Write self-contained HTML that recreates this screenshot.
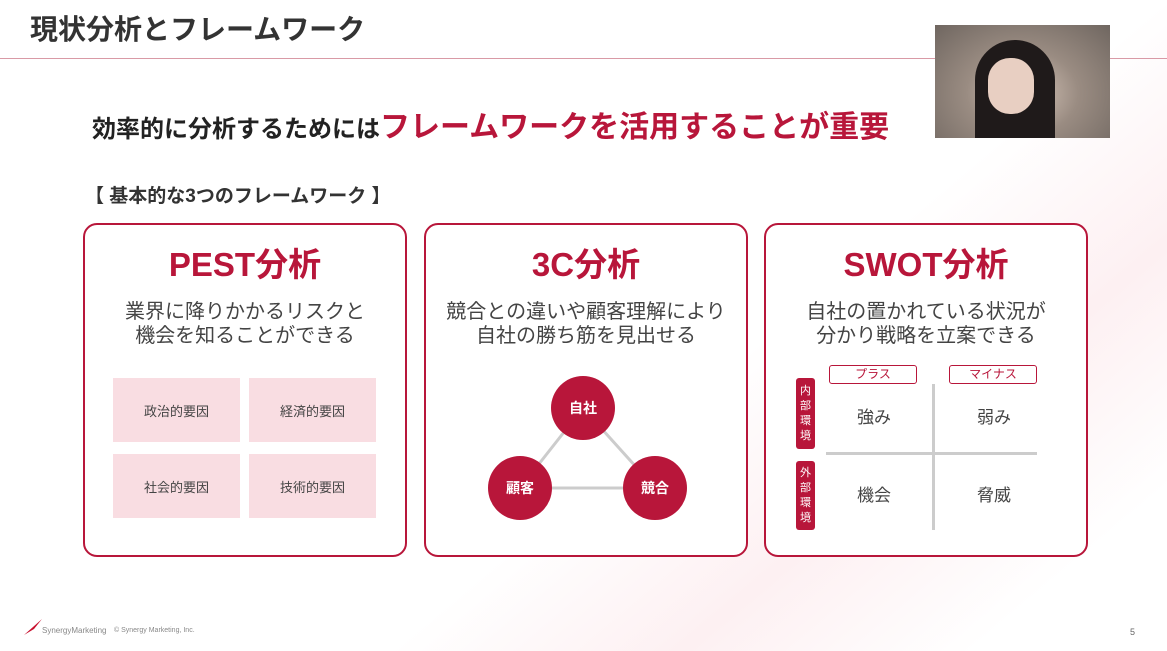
<!DOCTYPE html>
<html><head><meta charset="utf-8"><style>
body{margin:0;width:1167px;height:651px;position:relative;overflow:hidden;background:#fff;font-family:"Liberation Sans","Noto Sans CJK JP",sans-serif;}
.a{position:absolute;}
.card{position:absolute;top:223px;width:320px;height:330px;border:2px solid #b8163a;border-radius:14px;background:#fff;}
.ct{position:absolute;left:0;right:0;top:13px;text-align:center;font-size:33px;font-weight:bold;color:#b8163a;}
.cd{position:absolute;left:0;right:0;top:75px;text-align:center;font-size:20px;line-height:24px;color:#444;}
.pb{position:absolute;width:127px;height:64px;background:#f9dde2;color:#444;font-size:13px;display:flex;align-items:center;justify-content:center;}
.ci{position:absolute;width:64px;height:64px;border-radius:50%;background:#b8163a;color:#fff;font-size:14px;font-weight:bold;display:flex;align-items:center;justify-content:center;}
.tag{position:absolute;width:86px;height:17px;border:1.5px solid #b8163a;border-radius:3px;color:#b8163a;font-size:12px;text-align:center;line-height:17px;background:#fff;}
.side{position:absolute;width:19px;background:#b8163a;border-radius:3px;color:#fff;font-size:11px;line-height:15px;text-align:center;display:flex;align-items:center;justify-content:center;}
.sw{position:absolute;font-size:17px;color:#444;}
</style></head><body>
<div class="a" style="left:0;top:0;width:1167px;height:651px;background:linear-gradient(140deg,#fff 0%,#fff 60%,#fdf0f2 75%,#fff 90%);"></div>
<div class="a" style="left:30px;top:8px;font-size:28px;font-weight:bold;color:#333;">現状分析とフレームワーク</div>
<div class="a" style="left:0;top:58px;width:1167px;height:1px;background:#d99aa6;"></div>
<div class="a" style="left:935px;top:25px;width:175px;height:113px;background:radial-gradient(ellipse at 50% 60%,#d9c8bc 0%,#9a8c82 45%,#6f6660 100%);"></div>
<div class="a" style="left:975px;top:40px;width:80px;height:98px;border-radius:40px 40px 0 0;background:#1f1a1a;"></div>
<div class="a" style="left:988px;top:58px;width:46px;height:56px;border-radius:22px;background:#e8cfc2;"></div>
<div class="a" style="left:92px;top:102px;font-size:24px;font-weight:bold;color:#222;white-space:nowrap;">効率的に分析するためには<span style="color:#b8163a;font-size:30px;">フレームワークを活用することが重要</span></div>
<div class="a" style="left:85px;top:181px;font-size:19px;font-weight:bold;color:#333;">【 基本的な3つのフレームワーク 】</div>

<div class="card" style="left:83px;"><div class="ct">PEST分析</div><div class="cd">業界に降りかかるリスクと<br>機会を知ることができる</div></div>
<div class="pb" style="left:113px;top:378px;">政治的要因</div>
<div class="pb" style="left:249px;top:378px;">経済的要因</div>
<div class="pb" style="left:113px;top:454px;">社会的要因</div>
<div class="pb" style="left:249px;top:454px;">技術的要因</div>

<div class="card" style="left:424px;"><div class="ct">3C分析</div><div class="cd">競合との違いや顧客理解により<br>自社の勝ち筋を見出せる</div></div>
<svg class="a" style="left:424px;top:223px" width="324" height="334"><g stroke="#ccc" stroke-width="3"><line x1="159" y1="185" x2="96" y2="265"/><line x1="159" y1="185" x2="231" y2="265"/><line x1="96" y1="265" x2="231" y2="265"/></g></svg>
<div class="ci" style="left:551px;top:376px;">自社</div>
<div class="ci" style="left:488px;top:456px;">顧客</div>
<div class="ci" style="left:623px;top:456px;">競合</div>

<div class="card" style="left:764px;"><div class="ct">SWOT分析</div><div class="cd">自社の置かれている状況が<br>分かり戦略を立案できる</div></div>
<div class="tag" style="left:829px;top:365px;">プラス</div>
<div class="tag" style="left:949px;top:365px;">マイナス</div>
<div class="side" style="left:796px;top:378px;height:71px;">内<br>部<br>環<br>境</div>
<div class="side" style="left:796px;top:461px;height:69px;">外<br>部<br>環<br>境</div>
<div class="a" style="left:932px;top:384px;width:3px;height:146px;background:#ccc;"></div>
<div class="a" style="left:826px;top:452px;width:211px;height:3px;background:#ccc;"></div>
<div class="sw" style="left:857px;top:403px;">強み</div>
<div class="sw" style="left:977px;top:403px;">弱み</div>
<div class="sw" style="left:857px;top:481px;">機会</div>
<div class="sw" style="left:977px;top:481px;">脅威</div>

<svg class="a" style="left:22px;top:617px" width="22" height="20"><path d="M2 18 L20 2 L12 12 Z" fill="#c8102e"/></svg>
<div class="a" style="left:42px;top:626px;font-size:8px;color:#888;">SynergyMarketing</div>
<div class="a" style="left:114px;top:627px;font-size:7px;color:#888;">© Synergy Marketing, Inc.</div>
<div class="a" style="left:1130px;top:627px;font-size:9px;color:#666;">5</div>
</body></html>
